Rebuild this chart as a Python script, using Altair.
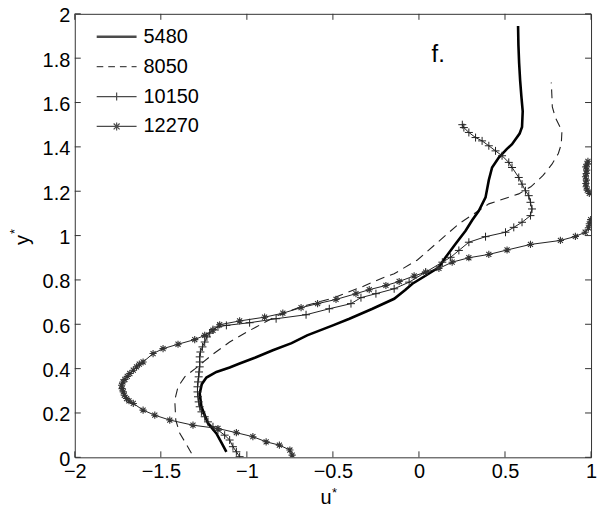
import altair as alt
import pandas as pd

# ---------------- data ----------------
series_names = ["5480", "8050", "10150", "12270"]

x_tick_values = [-2, -1.5, -1, -0.5, 0, 0.5, 1]
y_tick_values = [0, 0.2, 0.4, 0.6, 0.8, 1.0, 1.2, 1.4, 1.6, 1.8, 2.0]

u_5480 = [-1.119, -1.15, -1.177, -1.226, -1.264, -1.274, -1.262, -1.235, -1.177, -1.10,
          -1.042, -0.95, -0.849, -0.74, -0.65, -0.50, -0.404, -0.27, -0.144, -0.08,
          -0.038, 0.04, 0.116, 0.155, 0.21, 0.271, 0.31, 0.348, 0.387, 0.406,
          0.425, 0.464, 0.51, 0.541, 0.585, 0.599, 0.603, 0.595, 0.588, 0.582,
          0.578, 0.576]
y_5480 = [0.025, 0.07, 0.108, 0.153, 0.228, 0.288, 0.33, 0.36, 0.385, 0.405,
          0.423, 0.45, 0.483, 0.515, 0.55, 0.595, 0.625, 0.67, 0.715, 0.755,
          0.783, 0.82, 0.857, 0.902, 0.96, 1.022, 1.07, 1.112, 1.172, 1.25,
          1.307, 1.352, 1.39, 1.412, 1.46, 1.49, 1.56, 1.63, 1.70, 1.78,
          1.86, 1.945]

u_8050 = [-1.322, -1.36, -1.39, -1.413, -1.419, -1.40, -1.361, -1.30, -1.206, -1.10,
          -1.0, -0.946, -0.82, -0.694, -0.50, -0.337, -0.215, -0.144, -0.009, 0.05,
          0.232, 0.406, 0.58, 0.65, 0.72, 0.773, 0.81, 0.827, 0.831, 0.793,
          0.775, 0.773, 0.769]
y_8050 = [0.018, 0.07, 0.108, 0.168, 0.258, 0.318, 0.363, 0.40, 0.46, 0.52,
          0.565, 0.588, 0.64, 0.677, 0.718, 0.767, 0.808, 0.828, 0.89, 0.93,
          1.053, 1.143, 1.188, 1.22, 1.27, 1.322, 1.37, 1.412, 1.472, 1.532,
          1.58, 1.622, 1.69]

u_10150 = [-1.042, -1.061, -1.081, -1.10, -1.129, -1.168, -1.197, -1.226, -1.245, -1.264,
           -1.274, -1.28, -1.284, -1.287, -1.287, -1.284, -1.28, -1.278, -1.274, -1.274,
           -1.274, -1.27, -1.258, -1.245, -1.232, -1.216, -1.197, -1.168, -1.119, -0.984,
           -0.83, -0.656, -0.521, -0.395, -0.337, -0.25, -0.144, -0.057, 0.039, 0.136,
           0.184, 0.232, 0.29, 0.387, 0.503, 0.551, 0.599, 0.648, 0.657, 0.648,
           0.638, 0.619, 0.599, 0.58, 0.541, 0.522, 0.483, 0.445, 0.406, 0.367,
           0.329, 0.29, 0.261, 0.252]
y_10150 = [0.003, 0.025, 0.048, 0.078, 0.10, 0.123, 0.138, 0.16, 0.183, 0.205,
           0.228, 0.25, 0.273, 0.295, 0.318, 0.34, 0.363, 0.385, 0.408, 0.43,
           0.453, 0.475, 0.498, 0.52, 0.543, 0.56, 0.576, 0.588, 0.595, 0.607,
           0.625, 0.643, 0.67, 0.693, 0.72, 0.738, 0.76, 0.79, 0.835, 0.88,
           0.902, 0.933, 0.97, 0.995, 1.015, 1.037, 1.06, 1.09, 1.12, 1.15,
           1.18, 1.202, 1.232, 1.262, 1.307, 1.33, 1.36, 1.382, 1.405, 1.427,
           1.442, 1.465, 1.487, 1.5]

u_12270 = [-0.737, -0.75, -0.811, -0.888, -0.965, -1.061, -1.168, -1.313, -1.448, -1.535,
           -1.603, -1.66, -1.685, -1.699, -1.712, -1.718, -1.725, -1.728, -1.72, -1.709,
           -1.695, -1.68, -1.66, -1.641, -1.625, -1.603, -1.545, -1.487, -1.4, -1.303,
           -1.245, -1.197, -1.158, -1.042, -0.897, -0.791, -0.685, -0.589, -0.482, -0.366,
           -0.289, -0.192, -0.115, -0.028, 0.039, 0.116, 0.193, 0.29, 0.406, 0.512,
           0.648, 0.822, 0.909, 0.966, 0.985, 0.99, 0.998, 1.04, 1.03, 0.99,
           0.978, 0.972, 0.97, 0.973, 0.968, 0.972, 0.975, 0.97, 0.978, 0.982]
y_12270 = [0.01, 0.033, 0.055, 0.07, 0.093, 0.111, 0.13, 0.145, 0.168, 0.19,
           0.213, 0.243, 0.255, 0.265, 0.28, 0.295, 0.31, 0.325, 0.34, 0.351,
           0.365, 0.378, 0.393, 0.408, 0.42, 0.43, 0.468, 0.49, 0.51, 0.531,
           0.55, 0.573, 0.598, 0.615, 0.632, 0.65, 0.675, 0.693, 0.712, 0.738,
           0.756, 0.775, 0.793, 0.818, 0.835, 0.852, 0.88, 0.9, 0.915, 0.935,
           0.96, 0.978, 0.996, 1.015, 1.035, 1.053, 1.072, 1.12, 1.17, 1.19,
           1.205, 1.22, 1.235, 1.25, 1.265, 1.28, 1.295, 1.31, 1.322, 1.335]


def frame(us, ys):
    return pd.DataFrame({"u": us, "y": ys, "i": list(range(len(us)))})


df5480 = frame(u_5480, y_5480)
df8050 = frame(u_8050, y_8050)
df10150 = frame(u_10150, y_10150)
df12270 = frame(u_12270, y_12270)

# ---------------- styling ----------------
FONT = "Liberation Sans"
W, H = 518, 445
PLUS = "M-1,0L1,0M0,-1L0,1"
ASTER = "M-1,0L1,0M0,-1L0,1M-0.7,-0.7L0.7,0.7M-0.7,0.7L0.7,-0.7"

legend_paths = [
    "M-2,0L2,0M-2,0.07L2,0.07M-2,-0.07L2,-0.07",
    "M-2,0L-1.34,0M-0.84,0L-0.17,0M0.33,0L1,0M1.5,0L2,0",
    "M-2,0L2,0M0,-0.4L0,0.4",
    "M-2,0L2,0M0,-0.4L0,0.4M-0.3,-0.3L0.3,0.3M-0.3,0.3L0.3,-0.3",
]

xaxis = alt.Axis(values=x_tick_values, format=".1~f", title=None, grid=False,
                 domain=False, ticks=False, tickSize=0, labelFontSize=20,
                 labelColor="black", labelPadding=4, labelFlush=False,
                 labelOverlap=False, labelFont=FONT)
yaxis = alt.Axis(values=y_tick_values, format=".1~f", title=None, grid=False,
                 domain=False, ticks=False, tickSize=0, labelFontSize=20,
                 labelColor="black", labelPadding=5, labelFlush=False,
                 labelOverlap=False, labelFont=FONT, labelOffset=2)

X = alt.X("u:Q", scale=alt.Scale(domain=[-2, 1], nice=False, zero=False), axis=xaxis)
Y = alt.Y("y:Q", scale=alt.Scale(domain=[0, 2], nice=False, zero=False), axis=yaxis)
O = alt.Order("i:Q")

line5480 = alt.Chart(df5480).mark_line(color="black", strokeWidth=2.6, clip=True).encode(x=X, y=Y, order=O)
line8050 = alt.Chart(df8050).mark_line(color="#222", strokeWidth=1.1, strokeDash=[9, 6], clip=True).encode(x=X, y=Y, order=O)
line10150 = alt.Chart(df10150).mark_line(color="#222", strokeWidth=1.0, clip=True).encode(x=X, y=Y, order=O)
pts10150 = alt.Chart(df10150).mark_point(shape=PLUS, filled=False, size=64, strokeWidth=1.0,
                                          color="#222", opacity=1, clip=True).encode(x=X, y=Y)
line12270 = alt.Chart(df12270).mark_line(color="#222", strokeWidth=1.0, clip=True).encode(x=X, y=Y, order=O)
pts12270 = alt.Chart(df12270).mark_point(shape=ASTER, filled=False, size=52, strokeWidth=1.1,
                                          color="#333", opacity=1, clip=True).encode(x=X, y=Y)

# inward ticks (MATLAB style) on all four sides
xt = pd.DataFrame({"u": x_tick_values})
yt = pd.DataFrame({"y": y_tick_values})
tick_style = dict(color="#333", strokeWidth=1)
tick_bottom = alt.Chart(xt).mark_rule(**tick_style).encode(x=X, y=alt.value(H), y2=alt.value(H - 6))
tick_top = alt.Chart(xt).mark_rule(**tick_style).encode(x=X, y=alt.value(0), y2=alt.value(6))
tick_left = alt.Chart(yt).mark_rule(**tick_style).encode(y=Y, x=alt.value(0), x2=alt.value(6))
tick_right = alt.Chart(yt).mark_rule(**tick_style).encode(y=Y, x=alt.value(W), x2=alt.value(W - 6))

# legend (no box) built from the series names
leg_df = pd.DataFrame({"series": series_names})
legend_layer = alt.Chart(leg_df).transform_filter("false").mark_point(
    filled=False, color="black", strokeWidth=1.2, size=400
).encode(
    shape=alt.Shape("series:N", scale=alt.Scale(domain=series_names, range=legend_paths),
                    legend=alt.Legend(orient="none", legendX=31, legendY=12, title=None,
                                      labelFontSize=20, labelFont=FONT, labelColor="black",
                                      symbolSize=400, symbolStrokeWidth=1.2,
                                      symbolStrokeColor="black", labelOffset=16,
                                      rowPadding=9, padding=0))
)

# texts
def label(t, x, y, size, angle=0, align="center"):
    props = dict(font=FONT, fontSize=size, align=align, baseline="alphabetic", color="black")
    if angle:
        props["angle"] = angle
    return alt.Chart(pd.DataFrame({"t": [t]})).mark_text(**props).encode(
        text="t:N", x=alt.value(x), y=alt.value(y))

x_title = label("u", 252, 492, 20)
x_star = label("*", 260.5, 484.5, 13)
y_title = label("y", -46, 227, 20, angle=270)
y_star = label("*", -55.5, 218.5, 13, angle=270)
panel = label("f.", 358, 48, 24, align="left")

chart = alt.layer(
    tick_bottom, tick_top, tick_left, tick_right,
    line8050, line5480, line10150, pts10150, line12270, pts12270,
    legend_layer, x_title, x_star, y_title, y_star, panel
).properties(
    width=W, height=H,
    autosize=alt.AutoSizeParams(type="none"),
    padding={"left": 67, "top": 5, "right": 10, "bottom": 50},
    background="white",
).configure(font=FONT).configure_view(stroke="#333", strokeWidth=1)

chart.save("out.html", embed_options={"renderer": "svg", "actions": False})
